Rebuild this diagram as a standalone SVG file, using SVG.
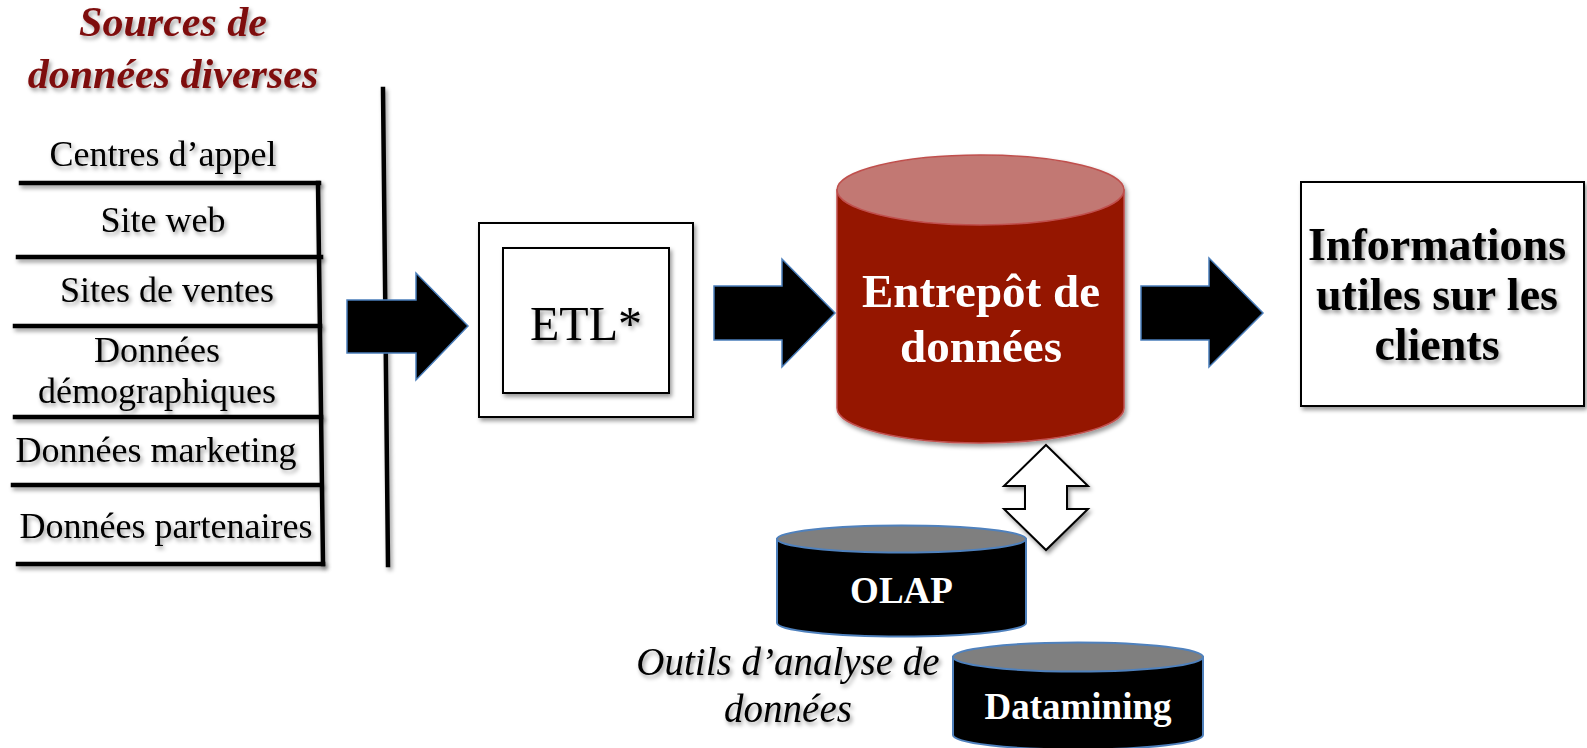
<svg xmlns="http://www.w3.org/2000/svg" width="1587" height="748" viewBox="0 0 1587 748">
  <defs>
    <filter id="shadow" filterUnits="userSpaceOnUse" x="0" y="0" width="1587" height="748">
      <feDropShadow dx="2" dy="3" stdDeviation="2" flood-color="#000" flood-opacity="0.4"/>
    </filter>
  </defs>
  <style>
    text { font-family: "Liberation Serif", "Times New Roman", serif; text-anchor: middle; }
    .title { font-size: 42px; font-weight: bold; font-style: italic; fill: #7e0a0a; filter: url(#shadow); }
    .src { font-size: 36px; fill: #000; filter: url(#shadow); }
    .rule { stroke: #000; stroke-width: 4.5; fill: none; stroke-linecap: square; filter: url(#shadow); }
    .box { fill: #fff; stroke: #000; stroke-width: 2; filter: url(#shadow); }
    .flow { fill: #000; stroke: #4a7ebb; stroke-width: 1.5; }
    .lbl { font-size: 48px; fill: #000; filter: url(#shadow); }
    .info { font-size: 46px; font-weight: bold; fill: #000; filter: url(#shadow); }
    .wh { fill: #fff; font-weight: bold; }
    .it { font-style: italic; font-size: 39px; fill: #000; filter: url(#shadow); }
  </style>

  <!-- Heading for the source list -->
  <g id="sources-title">
    <text class="title" x="173" y="36">Sources de</text>
    <text class="title" x="173" y="88">données diverses</text>
  </g>

  <!-- Source list with separating rules -->
  <g id="sources">
    <line class="rule" x1="21" y1="183" x2="319" y2="183"/>
    <line class="rule" x1="18" y1="257" x2="321" y2="257"/>
    <line class="rule" x1="15" y1="326" x2="320" y2="326"/>
    <line class="rule" x1="15" y1="417" x2="321" y2="417"/>
    <line class="rule" x1="13" y1="485" x2="320" y2="485"/>
    <line class="rule" x1="18" y1="564" x2="323" y2="564"/>
    <line class="rule" x1="318" y1="183" x2="323" y2="564"/>
    <text class="src" x="163" y="166">Centres d’appel</text>
    <text class="src" x="163" y="232">Site web</text>
    <text class="src" x="167" y="302">Sites de ventes</text>
    <text class="src" x="157" y="362">Données</text>
    <text class="src" x="157" y="403">démographiques</text>
    <text class="src" x="156" y="462">Données marketing</text>
    <text class="src" x="166" y="538">Données partenaires</text>
  </g>

  <!-- Boundary line -->
  <g id="boundary">
    <line class="rule" x1="383" y1="89" x2="388" y2="565" stroke-width="4"/>
  </g>

  <!-- ETL stage -->
  <g id="etl">
    <rect class="box" x="479" y="223" width="214" height="194"/>
    <rect class="box" x="503" y="248" width="166" height="145"/>
    <text class="lbl" x="586" y="340">ETL*</text>
  </g>

  <!-- Warehouse cylinder -->
  <g id="warehouse" filter="url(#shadow)">
    <path d="M837,190 L837,408 A143.5,35 0 0 0 1124,408 L1124,190 Z" fill="#951300" stroke="#c0504d" stroke-width="1.5"/>
    <ellipse cx="980.5" cy="190" rx="143.5" ry="35" fill="#c27873" stroke="#c0504d" stroke-width="1.5"/>
    <text class="wh" x="981" y="307" font-size="47">Entrepôt de</text>
    <text class="wh" x="981" y="362" font-size="47">données</text>
  </g>

  <!-- Output box -->
  <g id="insights">
    <rect class="box" x="1301" y="182" width="283" height="224"/>
    <text class="info" x="1437" y="260">Informations</text>
    <text class="info" x="1437" y="310">utiles sur les</text>
    <text class="info" x="1437" y="360">clients</text>
  </g>

  <!-- OLAP cylinder -->
  <g id="olap">
    <path d="M777,539 L777,623 A124.5,13.5 0 0 0 1026,623 L1026,539 Z" fill="#000" stroke="#4f81bd" stroke-width="2"/>
    <ellipse cx="901.5" cy="539" rx="124.5" ry="13.5" fill="#7f7f7f" stroke="#4f81bd" stroke-width="2"/>
    <text class="wh" x="901.5" y="603" font-size="37">OLAP</text>
  </g>

  <!-- Datamining cylinder -->
  <g id="datamining">
    <path d="M953,657 L953,735 A125,14.5 0 0 0 1203,735 L1203,657 Z" fill="#000" stroke="#4f81bd" stroke-width="2"/>
    <ellipse cx="1078" cy="657" rx="125" ry="14.5" fill="#7f7f7f" stroke="#4f81bd" stroke-width="2"/>
    <text class="wh" x="1078" y="719" font-size="37">Datamining</text>
  </g>

  <!-- Caption for the analysis tools -->
  <g id="tools-caption">
    <text class="it" x="788" y="675">Outils d’analyse de</text>
    <text class="it" x="788" y="722">données</text>
  </g>

  <!-- Flow arrows -->
  <g id="connectors">
    <path class="flow" d="M347,300 L416,300 L416,273 L468,326 L416,380 L416,353 L347,353 Z"/>
    <path class="flow" d="M714,286 L782,286 L782,259 L835,313 L782,367 L782,340 L714,340 Z"/>
    <path class="flow" d="M1141,286 L1209,286 L1209,258 L1263,313 L1209,367 L1209,340 L1141,340 Z"/>
    <path d="M1046,445 L1088,486 L1067,486 L1067,509 L1088,509 L1046,550 L1004,509 L1025,509 L1025,486 L1004,486 Z" fill="#fff" stroke="#000" stroke-width="2" filter="url(#shadow)"/>
  </g>
</svg>
